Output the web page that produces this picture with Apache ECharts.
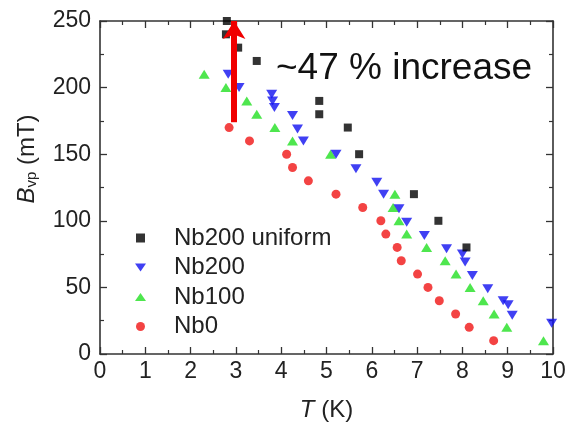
<!DOCTYPE html>
<html>
<head>
<meta charset="utf-8">
<script src="https://cdn.jsdelivr.net/npm/echarts@6/dist/echarts.min.js"></script>
<style>
  html, body { margin: 0; padding: 0; background: #fff; }
  #chart { width: 567px; height: 424px; }
</style>
</head>
<body>
<div id="chart"></div>
<script>
// T (K), B_vp (mT)
var nb200uniform = [
  [2.80, 250], [2.78, 240], [3.05, 230], [3.46, 220], [4.84, 190], [4.84, 180],
  [5.47, 170], [5.72, 150], [6.93, 120], [7.47, 100], [8.09, 80]
];
var nb200 = [
  [2.83, 210], [3.07, 200], [3.79, 195], [3.81, 190], [3.85, 185], [4.25, 179],
  [4.36, 169], [4.49, 160], [5.21, 150], [5.65, 139], [6.11, 129], [6.26, 120],
  [6.60, 109], [6.77, 99], [7.16, 89], [7.65, 79], [8.00, 75], [8.06, 69],
  [8.22, 59], [8.56, 49], [8.90, 40], [9.01, 37], [9.10, 29], [9.97, 23]
];
var nb100 = [
  [2.30, 210], [2.78, 200], [3.24, 190], [3.46, 180], [3.86, 170], [4.25, 160],
  [5.09, 150], [6.51, 120], [6.47, 110], [6.60, 100], [6.77, 90], [7.21, 80],
  [7.62, 70], [7.86, 60], [8.17, 50], [8.46, 40], [8.70, 30], [8.98, 20], [9.79, 10]
];
var nb0 = [
  [2.85, 170], [3.30, 160], [4.12, 150], [4.25, 140], [4.60, 130], [5.21, 120],
  [5.80, 110], [6.20, 100], [6.31, 90], [6.56, 80], [6.65, 70], [7.01, 60],
  [7.24, 50], [7.49, 40], [7.85, 30], [8.15, 20], [8.69, 10]
];
var seriesNames = ['Nb200 uniform', 'Nb200', 'Nb100', 'Nb0'];
// arrow from Nb0 onset to Nb200 uniform onset
var arrowT = 2.96;
var arrowFrom = 174;
var arrowTo = 250;
var increaseText = '~47 % increase';

var FONT = 'Liberation Sans, Arial, sans-serif';
var axisColor = '#333';

var chart = echarts.init(document.getElementById('chart'));

function frameAxis(pos, min, max, interval, showLabel, fmtSize, margin) {
  return {
    type: 'value',
    position: pos,
    min: min, max: max, interval: interval,
    axisLine: { show: true, onZero: false, lineStyle: { color: axisColor, width: 1.6 } },
    axisTick: { show: true, inside: true, length: 7, lineStyle: { color: axisColor, width: 1.3 } },
    minorTick: { show: true, splitNumber: 2, length: 4, lineStyle: { color: axisColor, width: 1.2 } },
    splitLine: { show: false },
    axisLabel: { show: showLabel, fontFamily: FONT, fontSize: fmtSize, color: '#222', margin: margin }
  };
}

var xBottom = frameAxis('bottom', 0, 10, 1, true, 23, 6);
xBottom.name = '{i|T} (K)';
xBottom.nameLocation = 'middle';
xBottom.nameGap = 44;
xBottom.nameTextStyle = {
  fontFamily: FONT, fontSize: 24, color: '#222',
  rich: { i: { fontFamily: FONT, fontSize: 24, fontStyle: 'italic', color: '#222' } }
};
var xTop = frameAxis('top', 0, 10, 1, false, 23, 6);
var yLeft = frameAxis('left', 0, 250, 50, true, 23, 9);
var yRight = frameAxis('right', 0, 250, 50, false, 23, 9);

// legend entries; the down triangle is given as a path so it keeps its orientation
var legendItems = [
  { name: seriesNames[0], icon: 'path://M0,0 L7,0 L7,7 L0,7 Z' },
  { name: seriesNames[1], icon: 'path://M0,0 L11,0 L5.5,8 Z' },
  { name: seriesNames[2], icon: 'path://M5.5,0 L11,8 L0,8 Z' },
  { name: seriesNames[3], icon: 'circle' }
];

var option = {
  backgroundColor: '#fff',
  animation: false,
  grid: { left: 100, right: 14, top: 21, bottom: 70, outerBoundsMode: 'none', containLabel: false },
  xAxis: [xBottom, xTop],
  yAxis: [yLeft, yRight],
  legend: {
    data: legendItems,
    orient: 'vertical',
    left: 130, top: 221,
    itemWidth: 11, itemHeight: 9, itemGap: 5.5,
    textStyle: { fontFamily: FONT, fontSize: 24, color: '#222', padding: [0, 0, 0, 23] }
  },
  graphic: [
    {
      type: 'text', x: 276, y: 69,
      style: { text: increaseText, font: '37px ' + FONT, fill: '#111', align: 'left', verticalAlign: 'middle' }
    },
    {
      type: 'text', x: 27, y: 159, rotation: Math.PI / 2,
      style: {
        text: '{i|B}{s|vp} (mT)', font: '24px ' + FONT, fill: '#222',
        align: 'center', verticalAlign: 'middle',
        rich: {
          i: { font: 'italic 24px ' + FONT, fill: '#222' },
          s: { font: '15px ' + FONT, fill: '#222', verticalAlign: 'bottom' }
        }
      }
    }
  ],
  series: [
    {
      name: 'Nb0', type: 'scatter', data: nb0,
      symbol: 'circle', symbolSize: 9,
      itemStyle: { color: '#f01414' }
    },
    {
      name: 'Nb100', type: 'scatter', data: nb100,
      symbol: 'triangle', symbolSize: [11, 9],
      itemStyle: { color: '#22e022' }
    },
    {
      name: 'Nb200', type: 'scatter', data: nb200,
      symbol: 'triangle', symbolRotate: 180, symbolSize: [11, 9],
      itemStyle: { color: '#1010f0' }
    },
    {
      name: 'Nb200 uniform', type: 'scatter', data: nb200uniform,
      symbol: 'rect', symbolSize: 8,
      itemStyle: { color: '#000' },
      markLine: {
        silent: true,
        symbol: ['none', 'arrow'],
        symbolSize: [17, 18],
        label: { show: false },
        lineStyle: { color: '#f00000', width: 6, type: 'solid' },
        emphasis: { disabled: true },
        data: [[{ coord: [arrowT, arrowFrom] }, { coord: [arrowT, arrowTo] }]]
      }
    }
  ]
};
chart.setOption(option);
</script>
</body>
</html>
